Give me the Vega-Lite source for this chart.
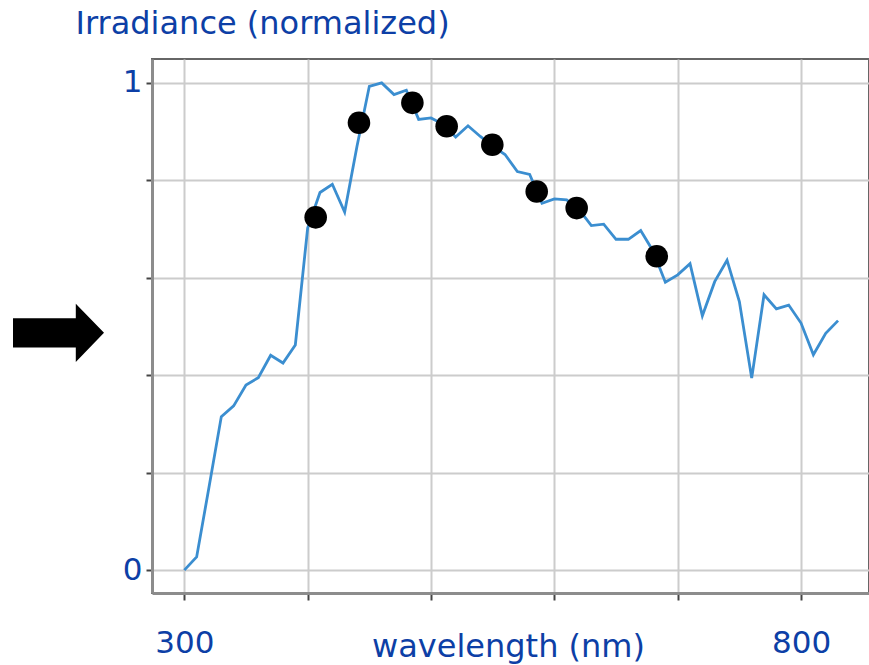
{
  "$schema": "https://vega.github.io/schema/vega-lite/v6.json",
  "width": 717,
  "height": 534,
  "autosize": {"type": "none"},
  "padding": {"left": 152, "top": 59, "right": 0, "bottom": 72},
  "background": "white",
  "datasets": {
    "spectrum": [
      {"wavelength": 300, "irradiance": 0.0},
      {"wavelength": 310, "irradiance": 0.027},
      {"wavelength": 320, "irradiance": 0.17},
      {"wavelength": 330, "irradiance": 0.315},
      {"wavelength": 340, "irradiance": 0.337},
      {"wavelength": 350, "irradiance": 0.38},
      {"wavelength": 360, "irradiance": 0.395},
      {"wavelength": 370, "irradiance": 0.441},
      {"wavelength": 380, "irradiance": 0.425},
      {"wavelength": 390, "irradiance": 0.462},
      {"wavelength": 400, "irradiance": 0.702},
      {"wavelength": 410, "irradiance": 0.775},
      {"wavelength": 420, "irradiance": 0.792},
      {"wavelength": 430, "irradiance": 0.735},
      {"wavelength": 440, "irradiance": 0.87},
      {"wavelength": 450, "irradiance": 0.993},
      {"wavelength": 460, "irradiance": 1.0},
      {"wavelength": 470, "irradiance": 0.976},
      {"wavelength": 480, "irradiance": 0.985},
      {"wavelength": 490, "irradiance": 0.925},
      {"wavelength": 500, "irradiance": 0.928},
      {"wavelength": 510, "irradiance": 0.915},
      {"wavelength": 520, "irradiance": 0.889},
      {"wavelength": 530, "irradiance": 0.912},
      {"wavelength": 540, "irradiance": 0.89},
      {"wavelength": 550, "irradiance": 0.87},
      {"wavelength": 560, "irradiance": 0.853},
      {"wavelength": 570, "irradiance": 0.818},
      {"wavelength": 580, "irradiance": 0.812},
      {"wavelength": 590, "irradiance": 0.753},
      {"wavelength": 600, "irradiance": 0.762},
      {"wavelength": 610, "irradiance": 0.76},
      {"wavelength": 620, "irradiance": 0.74},
      {"wavelength": 630, "irradiance": 0.707},
      {"wavelength": 640, "irradiance": 0.71},
      {"wavelength": 650, "irradiance": 0.679},
      {"wavelength": 660, "irradiance": 0.679},
      {"wavelength": 670, "irradiance": 0.697},
      {"wavelength": 680, "irradiance": 0.655},
      {"wavelength": 690, "irradiance": 0.591},
      {"wavelength": 700, "irradiance": 0.606},
      {"wavelength": 710, "irradiance": 0.629},
      {"wavelength": 720, "irradiance": 0.522},
      {"wavelength": 730, "irradiance": 0.592},
      {"wavelength": 740, "irradiance": 0.636},
      {"wavelength": 750, "irradiance": 0.551},
      {"wavelength": 760, "irradiance": 0.394},
      {"wavelength": 770, "irradiance": 0.565},
      {"wavelength": 780, "irradiance": 0.536},
      {"wavelength": 790, "irradiance": 0.544},
      {"wavelength": 800, "irradiance": 0.507},
      {"wavelength": 810, "irradiance": 0.442},
      {"wavelength": 820, "irradiance": 0.486},
      {"wavelength": 830, "irradiance": 0.512}
    ],
    "markers": [
      {"wavelength": 406.5, "irradiance": 0.724},
      {"wavelength": 441.6, "irradiance": 0.918},
      {"wavelength": 484.9, "irradiance": 0.959},
      {"wavelength": 512.7, "irradiance": 0.911},
      {"wavelength": 549.7, "irradiance": 0.873},
      {"wavelength": 585.7, "irradiance": 0.777},
      {"wavelength": 618.1, "irradiance": 0.743},
      {"wavelength": 683.0, "irradiance": 0.644}
    ],
    "arrow": [
      {"wavelength": 198, "irradiance": 0.487}
    ]
  },
  "encoding": {
    "x": {
      "field": "wavelength",
      "type": "quantitative",
      "scale": {"domain": [273.8, 855.1], "nice": false, "zero": false},
      "axis": {
        "values": [300, 400, 500, 600, 700, 800],
        "labelExpr": "datum.value == 300 || datum.value == 800 ? datum.label : ''",
        "labelBaseline": "alphabetic",
        "labelPadding": 52,
        "tickSize": 7,
        "title": "wavelength (nm)",
        "titleX": 356,
        "titleY": 63,
        "titleAlign": "center",
        "titleBaseline": "alphabetic"
      }
    },
    "y": {
      "field": "irradiance",
      "type": "quantitative",
      "scale": {"domain": [-0.047, 1.049], "nice": false, "zero": false},
      "axis": {
        "values": [0, 0.2, 0.4, 0.6, 0.8, 1],
        "format": "~g",
        "labelExpr": "datum.value == 0 || datum.value == 1 ? datum.label : ''",
        "labelPadding": 4,
        "tickSize": 6,
        "title": "Irradiance (normalized)",
        "titleAngle": 0,
        "titleX": -77,
        "titleY": -26,
        "titleAlign": "left",
        "titleBaseline": "alphabetic"
      }
    }
  },
  "layer": [
    {
      "data": {"name": "spectrum"},
      "mark": {"type": "line", "color": "#3b8ed0", "strokeWidth": 2.8}
    },
    {
      "data": {"name": "markers"},
      "mark": {"type": "point", "filled": true, "color": "black", "opacity": 1, "size": 510}
    },
    {
      "data": {"name": "arrow"},
      "mark": {
        "type": "point",
        "filled": true,
        "color": "black",
        "opacity": 1,
        "size": 8281,
        "shape": "M-1,-0.32L0.38,-0.32L0.38,-0.64L1,0L0.38,0.64L0.38,0.32L-1,0.32Z",
        "clip": false
      }
    }
  ],
  "config": {
    "font": "DejaVu Sans",
    "view": {"stroke": "#666666", "strokeWidth": 2},
    "axis": {
      "grid": true,
      "gridColor": "#cccccc",
      "gridWidth": 2,
      "domainColor": "#8c8c8c",
      "domainWidth": 3,
      "tickColor": "#444444",
      "tickWidth": 2,
      "labelFont": "DejaVu Sans",
      "labelFontSize": 31,
      "labelColor": "#0d3fa6",
      "titleFont": "DejaVu Sans",
      "titleFontSize": 32,
      "titleFontWeight": "normal",
      "titleColor": "#0d3fa6"
    }
  }
}
